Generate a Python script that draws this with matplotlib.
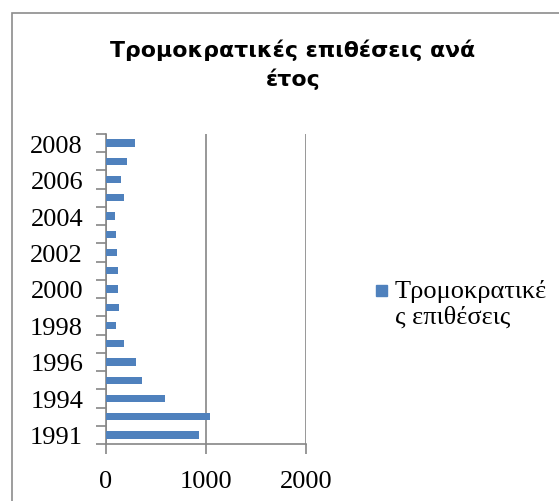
import matplotlib
matplotlib.use("Agg")
import matplotlib.pyplot as plt
from matplotlib.patches import Rectangle

# ---- Data ----
years = ["1991", "1993", "1994", "1995", "1996", "1997", "1998", "1999", "2000",
         "2001", "2002", "2003", "2004", "2005", "2006", "2007", "2008"]
attacks = [933, 1040, 590, 357, 297, 180, 100, 130, 117,
           117, 113, 103, 93, 180, 153, 213, 287]
series_name = "Τρομοκρατικές επιθέσεις"
title_lines = ["Τρομοκρατικές επιθέσεις ανά", "έτος"]
legend_lines = ["Τρομοκρατικέ", "ς επιθέσεις"]

BAR_COLOR = "#4f81bd"
AXIS_COLOR = "#868686"
SERIF = ["Liberation Serif", "DejaVu Serif"]

W, H = 559, 502
fig = plt.figure(figsize=(W / 100, H / 100), dpi=100)

# chart frame (cropped at right and bottom)
fig.patches.append(Rectangle((12 / W, -0.05), 1.1, 1 - 14 / H + 0.05,
                             transform=fig.transFigure, fill=False,
                             edgecolor="#8c8c8c", linewidth=1.2))

ax = fig.add_axes([106 / W, (H - 445) / H, 200 / W, 310 / H])

pos = list(range(len(years)))
ax.barh(pos, attacks, height=0.4, color=BAR_COLOR, label=series_name, zorder=3)

ax.set_xlim(0, 2000)
ax.set_ylim(-0.5, len(years) - 0.5)
ax.set_xticks([0, 1000, 2000])
ax.set_xticklabels(["0", "1000", "2000"], fontsize=19, family=SERIF)
ax.xaxis.grid(True, color=AXIS_COLOR, linewidth=1.2, zorder=0)

# boundary ticks (major), labels on every other category (minor)
ax.set_yticks([p - 0.5 for p in pos] + [len(years) - 0.5])
ax.set_yticklabels([])
ax.set_yticks(pos, minor=True)
ax.set_yticklabels([y if i % 2 == 0 else "" for i, y in enumerate(years)],
                   minor=True, fontsize=19, family=SERIF)
ax.tick_params(axis="y", which="major", length=7, color=AXIS_COLOR, width=1.2)
ax.tick_params(axis="y", which="minor", length=0, pad=16.5)
ax.tick_params(axis="x", length=7, color=AXIS_COLOR, width=1.2, pad=12)

for s in ["top", "right"]:
    ax.spines[s].set_visible(False)
for s in ["left", "bottom"]:
    ax.spines[s].set_color(AXIS_COLOR)
    ax.spines[s].set_linewidth(1.2)

# title, two centred lines
for line, base in zip(title_lines, [57, 86]):
    fig.text(293 / W, 1 - base / H, line, ha="center", va="baseline",
             fontsize=15.8, fontweight="bold", family="DejaVu Sans")

# legend
fig.patches.append(Rectangle((376 / W, 1 - 297 / H), 11 / W, 11 / H,
                             transform=fig.transFigure, color=BAR_COLOR))
for line, base in zip(legend_lines, [298, 324]):
    fig.text(395 / W, 1 - base / H, line, ha="left", va="baseline",
             fontsize=19, family=SERIF)

fig.savefig("out.png", dpi=100)
